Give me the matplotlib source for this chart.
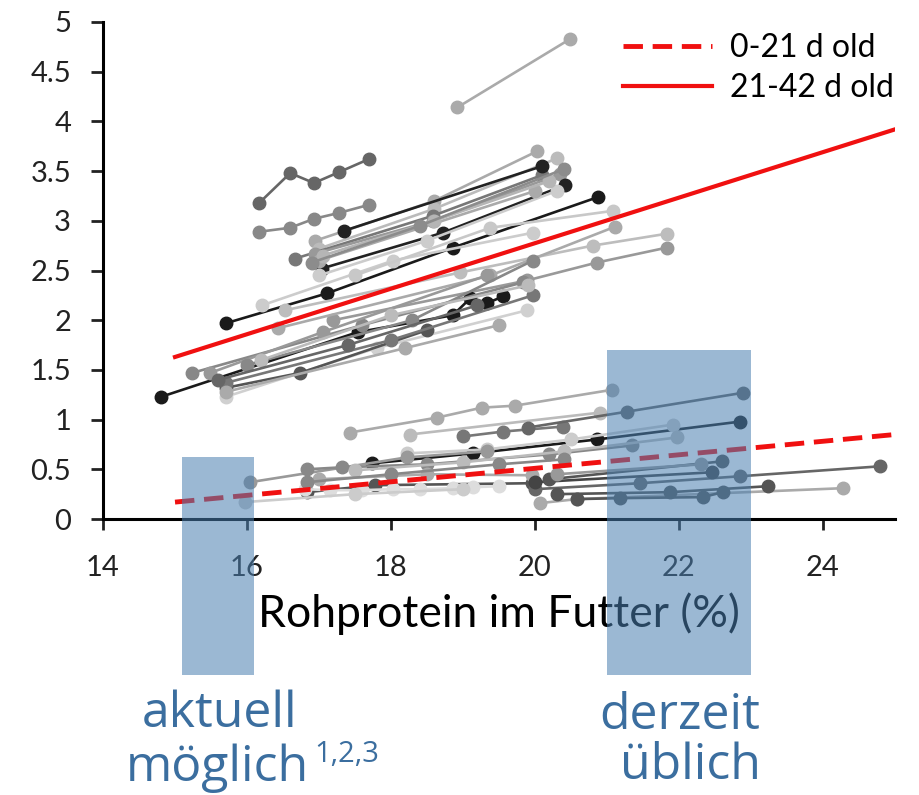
import matplotlib
matplotlib.use("Agg")
import matplotlib.pyplot as plt
from matplotlib.patches import Rectangle

# 21-42 d old series (x = crude protein %, y = value)
upper_x = [
    [18.92, 20.49],
    [16.17, 16.60, 16.93, 17.28, 17.69],
    [16.17, 16.60, 16.93, 17.28, 17.69],
    [16.95, 18.60, 20.03],
    [17.00, 18.60, 20.31],
    [16.67, 18.58, 20.10],
    [16.95, 18.58, 20.35],
    [17.04, 18.72, 20.42],
    [17.00, 18.50, 20.30],
    [17.35, 20.10],
    [17.00, 20.00],
    [17.05, 18.60, 20.20],
    [16.90, 18.40, 20.40],
    [15.71, 17.11, 18.86, 20.88],
    [16.21, 18.03, 19.97],
    [17.20, 19.89, 20.86, 21.83],
    [16.53, 18.96, 20.80, 21.83],
    [16.43, 19.38, 21.11],
    [17.50, 19.38, 21.08],
    [14.81, 17.54, 18.86, 19.10, 19.33, 19.56],
    [15.24, 17.60, 19.83],
    [15.49, 17.05, 19.33],
    [15.71, 17.80, 19.89],
    [15.71, 16.74, 18.50],
    [15.71, 18.00, 19.97],
    [15.71, 18.20, 19.50],
    [16.00, 18.29, 19.97],
    [16.20, 18.00, 19.90],
    [15.60, 17.40, 19.20],
]
upper_y = [
    [4.14, 4.83],
    [3.18, 3.48, 3.38, 3.49, 3.62],
    [2.89, 2.93, 3.02, 3.08, 3.16],
    [2.80, 3.20, 3.70],
    [2.72, 3.12, 3.63],
    [2.62, 3.05, 3.46],
    [2.67, 3.00, 3.47],
    [2.52, 2.88, 3.36],
    [2.45, 2.80, 3.30],
    [2.90, 3.55],
    [2.60, 3.30],
    [2.65, 3.00, 3.40],
    [2.58, 2.95, 3.52],
    [1.97, 2.27, 2.73, 3.24],
    [2.15, 2.60, 2.88],
    [2.00, 2.40, 2.58, 2.73],
    [2.10, 2.48, 2.75, 2.87],
    [1.92, 2.45, 2.94],
    [2.45, 2.93, 3.10],
    [1.23, 1.88, 2.05, 2.22, 2.17, 2.24],
    [1.47, 1.95, 2.38],
    [1.47, 1.88, 2.45],
    [1.23, 1.72, 2.10],
    [1.32, 1.47, 1.90],
    [1.37, 1.80, 2.25],
    [1.28, 1.72, 1.95],
    [1.55, 2.00, 2.60],
    [1.60, 2.05, 2.35],
    [1.40, 1.75, 2.15],
]
upper_c = ["#aaaaaa", "#666666", "#888888", "#aaaaaa", "#bbbbbb", "#777777",
           "#999999", "#222222", "#cccccc", "#222222", "#aaaaaa", "#b5b5b5",
           "#8c8c8c", "#1a1a1a", "#cccccc", "#999999", "#bdbdbd", "#aaaaaa",
           "#c8c8c8", "#1a1a1a", "#888888", "#999999", "#d0d0d0", "#555555",
           "#777777", "#aaaaaa", "#888888", "#bbbbbb", "#666666"]

# 0-21 d old series
lower_x = [
    [17.43, 18.64, 19.26, 19.72, 21.07],
    [18.26, 20.90],
    [19.00, 19.56, 20.39],
    [19.90, 21.28, 22.89],
    [17.74, 19.14, 20.86, 22.85],
    [18.22, 19.33, 20.50, 21.92],
    [16.04, 18.22, 19.33],
    [16.83, 17.32, 18.50, 20.20, 21.35],
    [17.50, 19.00, 20.40, 21.97],
    [16.83, 17.78, 19.96],
    [17.00, 18.50, 19.96],
    [16.80, 17.15, 17.60, 18.03, 18.40, 18.86, 19.14, 19.50],
    [15.97, 17.50, 19.00],
    [20.07, 20.58, 24.28],
    [20.00, 21.46, 22.85, 24.79],
    [20.30, 21.88, 23.24],
    [20.00, 22.46],
    [20.20, 22.60],
    [20.30, 22.30],
    [20.58, 21.18, 22.33, 22.61],
    [16.83, 18.00, 19.50, 20.40],
]
lower_y = [
    [0.87, 1.02, 1.12, 1.14, 1.30],
    [0.85, 1.07],
    [0.83, 0.88, 0.93],
    [0.92, 1.08, 1.27],
    [0.56, 0.66, 0.80, 0.98],
    [0.66, 0.70, 0.80, 0.95],
    [0.37, 0.62, 0.68],
    [0.50, 0.52, 0.55, 0.65, 0.74],
    [0.49, 0.57, 0.68, 0.82],
    [0.27, 0.34, 0.36],
    [0.40, 0.45, 0.44],
    [0.30, 0.29, 0.29, 0.30, 0.30, 0.31, 0.32, 0.33],
    [0.17, 0.25, 0.30],
    [0.16, 0.20, 0.31],
    [0.30, 0.36, 0.43, 0.53],
    [0.25, 0.27, 0.33],
    [0.37, 0.47],
    [0.40, 0.58],
    [0.45, 0.55],
    [0.20, 0.21, 0.22, 0.27],
    [0.37, 0.45, 0.55, 0.60],
]
lower_c = ["#aaaaaa", "#bbbbbb", "#777777", "#666666", "#1a1a1a", "#cccccc",
           "#999999", "#888888", "#bbbbbb", "#555555", "#aaaaaa", "#dddddd",
           "#cccccc", "#aaaaaa", "#666666", "#555555", "#444444", "#555555",
           "#999999", "#555555", "#888888"]

# regression lines
reg_x = [15, 25]
reg_early = [0.17, 0.85]
reg_late = [1.63, 3.92]

# highlighted protein ranges (x0, x1, top)
bands = [(15.1, 16.1, 0.62), (21.0, 23.0, 1.70)]
band_bottom = -1.57

W, H = 919, 795
fig = plt.figure(figsize=(W / 100, H / 100), dpi=100)
ax = fig.add_axes([103 / W, 1 - 519 / H, (895 - 103) / W, (519 - 22) / H])

for xs, ys, c in zip(upper_x + lower_x, upper_y + lower_y, upper_c + lower_c):
    ax.plot(xs, ys, color=c, lw=1.9, marker="o", ms=9, mec=c, mfc=c, zorder=2)

ax.plot(reg_x, reg_early, color="#f01010", lw=3.5, ls=(0, (4, 2)), label="0-21 d old", zorder=4)
ax.plot(reg_x, reg_late, color="#f01010", lw=3.0, label="21-42 d old", zorder=4)

for x0, x1, top in bands:
    ax.add_patch(Rectangle((x0, band_bottom), x1 - x0, top - band_bottom,
                           facecolor="#4a7fb0", alpha=0.55, edgecolor="none",
                           clip_on=False, zorder=10))

ax.set_xlim(14, 25)
ax.set_ylim(0, 5)
ax.set_xticks([14, 16, 18, 20, 22, 24])
ax.set_yticks([0, 0.5, 1, 1.5, 2, 2.5, 3, 3.5, 4, 4.5, 5])
ax.set_yticklabels(["0", "0.5", "1", "1.5", "2", "2.5", "3", "3.5", "4", "4.5", "5"])
for s in ["top", "right"]:
    ax.spines[s].set_visible(False)
for s in ["left", "bottom"]:
    ax.spines[s].set_linewidth(2.2)
ax.tick_params(direction="out", width=2, labelsize=21, colors="#222222")
ax.tick_params(axis="y", length=9, pad=14)
ax.tick_params(axis="x", length=8, pad=18)
for lab in ax.get_xticklabels() + ax.get_yticklabels():
    lab.set_fontfamily("Lato")

ax.set_xlabel("Rohprotein im Futter (%)", fontsize=32, family="Lato", labelpad=8, color="black")

leg = ax.legend(loc="upper left", bbox_to_anchor=(0.62, 1.035), frameon=False,
                prop={"family": "Lato", "size": 23}, handlelength=2.8,
                handletextpad=0.55, labelspacing=0.3)

blue = "#3b6e9f"
def ftxt(x, y, s, size, **kw):
    fig.text(x / W, 1 - y / H, s, fontsize=size, color=blue, family="Open Sans",
             va="center", **kw)

ftxt(220, 714, "aktuell", 36, ha="center")
ftxt(126, 768, "möglich", 36, ha="left")
ftxt(314, 754, "1,2,3", 21, ha="left")
ftxt(680, 716, "derzeit", 36, ha="center")
ftxt(690, 766, "üblich", 36, ha="center")

fig.savefig("out.png", dpi=100)
